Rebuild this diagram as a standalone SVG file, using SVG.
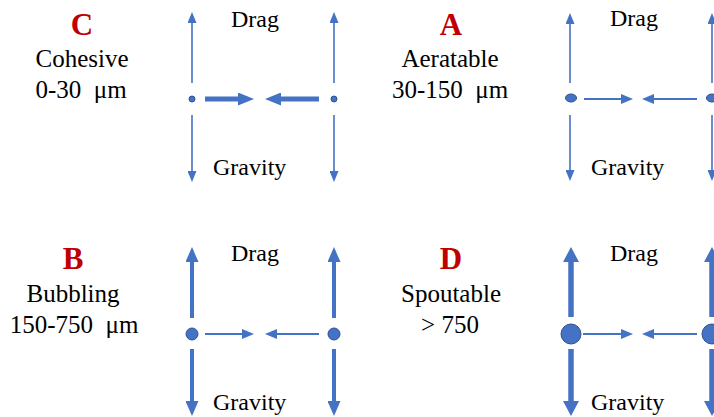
<svg xmlns="http://www.w3.org/2000/svg" width="714" height="417" viewBox="0 0 714 417">
<style>
.lbl{font-size:24px;fill:#000;}
.cls{font-size:25px;text-anchor:middle;fill:#000;}
.ltr{font-size:31px;font-weight:bold;fill:#C00000;text-anchor:middle;}
.ln{stroke:#4472C4;fill:none;stroke-linecap:butt;}
.dot{fill:#4472C4;stroke:#2F528F;stroke-width:1;}
.hd{fill:#4472C4;}
</style>
<defs>
<marker id="hs" markerUnits="userSpaceOnUse" markerWidth="11" markerHeight="9" viewBox="0 0 11 9" refX="0" refY="4.5" orient="auto"><path class="hd" d="M0,0 L11,4.5 L0,9 z"/></marker>
<marker id="hm" markerUnits="userSpaceOnUse" markerWidth="12" markerHeight="10" viewBox="0 0 12 10" refX="0" refY="5" orient="auto"><path class="hd" d="M0,0 L12,5 L0,10 z"/></marker>
<marker id="hc" markerUnits="userSpaceOnUse" markerWidth="16" markerHeight="13" viewBox="0 0 16 13" refX="0" refY="6.5" orient="auto"><path class="hd" d="M0,0 L16,6.5 L0,13 z"/></marker>
<marker id="hb" markerUnits="userSpaceOnUse" markerWidth="15" markerHeight="13" viewBox="0 0 15 13" refX="0" refY="6.5" orient="auto"><path class="hd" d="M0,0 L15,6.5 L0,13 z"/></marker>
<marker id="hd" markerUnits="userSpaceOnUse" markerWidth="15" markerHeight="16" viewBox="0 0 15 16" refX="0" refY="8" orient="auto"><path class="hd" d="M0,0 L15,8 L0,16 z"/></marker>
</defs>

<g id="labels">
<g id="label-C">
<text class="ltr" font-family="Liberation Serif" x="82" y="35">C</text>
<text class="cls" font-family="Liberation Serif" x="82" y="67">Cohesive</text>
<text class="cls" font-family="Liberation Serif" x="81" y="98">0-30&#160; μm</text>
</g>
<g id="label-A">
<text class="ltr" font-family="Liberation Serif" x="451" y="35">A</text>
<text class="cls" font-family="Liberation Serif" x="450" y="67">Aeratable</text>
<text class="cls" font-family="Liberation Serif" x="450" y="98">30-150&#160; μm</text>
</g>
<g id="label-B">
<text class="ltr" font-family="Liberation Serif" x="73" y="269">B</text>
<text class="cls" font-family="Liberation Serif" x="73" y="302">Bubbling</text>
<text class="cls" font-family="Liberation Serif" x="74" y="333">150-750&#160; μm</text>
</g>
<g id="label-D">
<text class="ltr" font-family="Liberation Serif" x="451" y="269">D</text>
<text class="cls" font-family="Liberation Serif" x="451" y="302">Spoutable</text>
<text class="cls" font-family="Liberation Serif" x="450" y="333">&gt; 750</text>
</g>
</g>

<g id="force-labels">
<text class="lbl" font-family="Liberation Serif" x="231" y="27">Drag</text>
<text class="lbl" font-family="Liberation Serif" x="213" y="175">Gravity</text>
<text class="lbl" font-family="Liberation Serif" x="610" y="26">Drag</text>
<text class="lbl" font-family="Liberation Serif" x="591" y="175">Gravity</text>
<text class="lbl" font-family="Liberation Serif" x="231" y="261">Drag</text>
<text class="lbl" font-family="Liberation Serif" x="213" y="410">Gravity</text>
<text class="lbl" font-family="Liberation Serif" x="610" y="261">Drag</text>
<text class="lbl" font-family="Liberation Serif" x="591" y="410">Gravity</text>
</g>

<g id="connectors">
<line class="ln" x1="192" y1="83" x2="192" y2="23" stroke-width="1.6" marker-end="url(#hs)"/>
<line class="ln" x1="192" y1="115" x2="192" y2="171" stroke-width="1.6" marker-end="url(#hs)"/>
<line class="ln" x1="334" y1="83" x2="334" y2="23" stroke-width="1.6" marker-end="url(#hs)"/>
<line class="ln" x1="334" y1="115" x2="334" y2="171" stroke-width="1.6" marker-end="url(#hs)"/>
<line class="ln" x1="205" y1="99" x2="238" y2="99" stroke-width="5" marker-end="url(#hc)"/>
<line class="ln" x1="319" y1="99" x2="281" y2="99" stroke-width="5" marker-end="url(#hc)"/>
<line class="ln" x1="570" y1="83" x2="570" y2="24" stroke-width="1.6" marker-end="url(#hs)"/>
<line class="ln" x1="570" y1="115" x2="570" y2="170" stroke-width="1.6" marker-end="url(#hs)"/>
<line class="ln" x1="712" y1="83" x2="712" y2="24" stroke-width="1.6" marker-end="url(#hs)"/>
<line class="ln" x1="712" y1="115" x2="712" y2="170" stroke-width="1.6" marker-end="url(#hs)"/>
<line class="ln" x1="584" y1="99" x2="621" y2="99" stroke-width="2.2" marker-end="url(#hm)"/>
<line class="ln" x1="697" y1="99" x2="654" y2="99" stroke-width="2.2" marker-end="url(#hm)"/>
<line class="ln" x1="192" y1="318" x2="192" y2="262" stroke-width="4" marker-end="url(#hb)"/>
<line class="ln" x1="192" y1="349" x2="192" y2="401" stroke-width="4" marker-end="url(#hb)"/>
<line class="ln" x1="334" y1="318" x2="334" y2="262" stroke-width="4" marker-end="url(#hb)"/>
<line class="ln" x1="334" y1="349" x2="334" y2="401" stroke-width="4" marker-end="url(#hb)"/>
<line class="ln" x1="205" y1="334" x2="242" y2="334" stroke-width="2" marker-end="url(#hm)"/>
<line class="ln" x1="319" y1="334" x2="277" y2="334" stroke-width="2" marker-end="url(#hm)"/>
<line class="ln" x1="571" y1="317" x2="571" y2="262" stroke-width="5.5" marker-end="url(#hd)"/>
<line class="ln" x1="571" y1="349" x2="571" y2="401" stroke-width="5.5" marker-end="url(#hd)"/>
<line class="ln" x1="712" y1="317" x2="712" y2="262" stroke-width="5.5" marker-end="url(#hd)"/>
<line class="ln" x1="712" y1="349" x2="712" y2="401" stroke-width="5.5" marker-end="url(#hd)"/>
<line class="ln" x1="583" y1="334" x2="621" y2="334" stroke-width="2" marker-end="url(#hm)"/>
<line class="ln" x1="697" y1="334" x2="654" y2="334" stroke-width="2" marker-end="url(#hm)"/>
</g>

<g id="particles">
<g id="particle-C1"><circle class="dot" cx="192" cy="99" r="3"/></g>
<g id="particle-C2"><circle class="dot" cx="334" cy="99" r="3"/></g>
<g id="particle-A1"><ellipse class="dot" cx="571" cy="98" rx="5.5" ry="4"/></g>
<g id="particle-A2"><ellipse class="dot" cx="712" cy="98" rx="5.5" ry="4"/></g>
<g id="particle-B1"><circle class="dot" cx="192" cy="334" r="6"/></g>
<g id="particle-B2"><circle class="dot" cx="334" cy="334" r="6"/></g>
<g id="particle-D1"><circle class="dot" cx="571" cy="334" r="10"/></g>
<g id="particle-D2"><circle class="dot" cx="712" cy="334" r="10"/></g>
</g>
</svg>
